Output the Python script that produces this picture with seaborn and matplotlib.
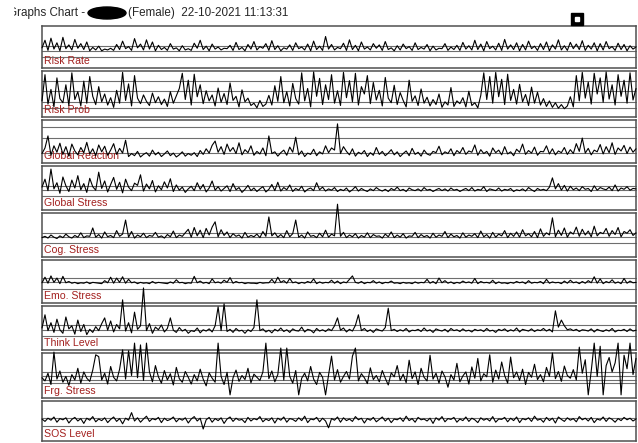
import numpy as np
import matplotlib
matplotlib.use("Agg")
import matplotlib.pyplot as plt
from matplotlib.patches import Ellipse, Rectangle
import seaborn as sns

# panel names, top to bottom
labels = ["Risk Rate", "Risk Prob", "Global Reaction", "Global Stress", "Cog. Stress",
          "Emo. Stress", "Think Level", "Frg. Stress", "SOS Level"]

risk_rate = [
    48, 66, 42, 71, 45, 60, 41, 73, 46, 55, 43, 68, 47, 58, 44, 62, 41, 49, 43, 52,
    41, 45, 43, 47, 42, 56, 44, 64, 46, 51, 42, 70, 48, 57, 43, 67, 45, 62, 41, 54,
    44, 49, 42, 58, 45, 48, 41, 53, 43, 46, 42, 59, 47, 66, 44, 52, 41, 57, 45, 50,
    43, 47, 46, 54, 42, 61, 44, 49, 41, 56, 45, 63, 43, 51, 47, 58, 42, 65, 44, 53,
    41, 48, 45, 55, 42, 60, 46, 50, 43, 57, 41, 64, 44, 52, 42, 75, 45, 56, 43, 49,
    46, 59, 42, 67, 44, 54, 41, 62, 45, 50, 43, 58, 47, 55, 42, 63, 44, 48, 41, 53,
    43, 57, 46, 51, 42, 60, 44, 49, 45, 56, 41, 52, 43, 47, 46, 58, 42, 50, 44, 54,
    42, 61, 45, 53, 43, 66, 44, 57, 41, 63, 46, 52, 43, 59, 42, 68, 45, 55, 44, 60,
    41, 56, 43, 64, 46, 52, 42, 58, 44, 62, 41, 55, 45, 67, 43, 53, 42, 61, 46, 57,
    44, 65, 42, 54, 45, 60, 41, 58, 43, 63, 46, 51, 42, 59, 44, 56, 41, 53, 45, 50,
]

risk_prob = [
    35, 92, 28, 60, 22, 85, 40, 31, 70, 25, 96, 38, 55, 24, 78, 30, 88, 45, 27, 66,
    33, 50, 26, 42, 21, 58, 30, 97, 36, 72, 24, 90, 41, 29, 48, 34, 25, 52, 31, 44,
    27, 39, 23, 55, 30, 46, 62, 95, 38, 80, 26, 93, 44, 70, 29, 57, 35, 48, 24, 63,
    32, 51, 27, 74, 36, 45, 22, 59, 33, 41, 25, 30, 20, 36, 23, 28, 47, 26, 68, 34,
    88, 31, 55, 24, 73, 40, 28, 96, 35, 62, 22, 98, 45, 84, 27, 70, 38, 92, 30, 57,
    25, 97, 42, 79, 33, 95, 26, 66, 50, 90, 29, 75, 37, 58, 24, 86, 41, 31, 69, 27,
    53, 36, 22, 80, 34, 46, 25, 61, 30, 43, 24, 38, 27, 50, 21, 33, 26, 64, 23, 35,
    29, 42, 22, 56, 25, 31, 20, 47, 96, 38, 88, 30, 97, 44, 82, 27, 93, 36, 60, 28,
    71, 33, 49, 25, 65, 30, 54, 26, 40, 23, 35, 21, 31, 19, 27, 18, 24, 44, 22, 90,
    35, 97, 41, 76, 28, 95, 50, 85, 32, 98, 39, 70, 26, 92, 45, 80, 30, 96, 37, 62,
]

global_reaction = [
    22, 35, 63, 18, 40, 25, 46, 20, 38, 16, 44, 28, 19, 36, 24, 48, 21, 33, 17, 42,
    26, 39, 18, 30, 45, 20, 34, 23, 53, 15, 22, 17, 27, 14, 20, 24, 16, 30, 19, 25,
    15, 21, 28, 17, 23, 14, 19, 26, 16, 22, 18, 24, 15, 29, 20, 33, 23, 41, 51, 25,
    38, 20, 44, 27, 36, 22, 47, 19, 31, 24, 40, 18, 27, 21, 35, 17, 63, 22, 26, 16,
    24, 30, 18, 37, 25, 60, 19, 28, 15, 23, 20, 32, 17, 26, 21, 40, 24, 35, 30, 91,
    22, 38, 27, 19, 33, 16, 25, 21, 29, 15, 24, 18, 36, 20, 27, 17, 23, 31, 19, 26,
    15, 22, 28, 17, 34, 20, 25, 16, 30, 21, 18, 27, 24, 39, 19, 26, 22, 33, 17, 29,
    23, 36, 20, 28, 25, 42, 18, 31, 22, 27, 16, 35, 24, 30, 19, 38, 21, 26, 17, 32,
    25, 44, 20, 29, 23, 37, 18, 27, 26, 40, 21, 33, 19, 28, 24, 36, 20, 31, 22, 45,
    27, 58, 23, 34, 19, 30, 26, 43, 21, 38, 24, 47, 20, 35, 28, 41, 22, 37, 25, 33,
]

global_stress = [
    52, 70, 44, 93, 48, 62, 38, 75, 55, 42, 68, 50, 78, 46, 60, 40, 72, 53, 45, 86,
    49, 66, 41, 58, 74, 47, 63, 39, 70, 52, 44, 61, 56, 80, 43, 59, 48, 67, 41, 55,
    46, 64, 50, 71, 42, 57, 45, 52, 40, 48, 54, 44, 62, 47, 58, 41, 50, 66, 45, 53,
    43, 49, 55, 42, 60, 46, 51, 40, 47, 56, 44, 50, 42, 48, 53, 41, 47, 58, 44, 63,
    43, 51, 46, 57, 42, 49, 45, 54, 41, 47, 50, 44, 62, 46, 52, 43, 48, 45, 51, 42,
    47, 44, 50, 41, 46, 53, 43, 49, 45, 42, 48, 44, 51, 46, 43, 47, 42, 49, 45, 52,
    44, 47, 42, 50, 46, 44, 48, 43, 51, 45, 47, 42, 46, 49, 44, 48, 43, 50, 45, 47,
    42, 46, 49, 44, 51, 43, 47, 45, 53, 42, 48, 46, 44, 50, 43, 47, 45, 49, 42, 46,
    44, 48, 43, 51, 46, 42, 49, 45, 47, 44, 52, 73, 48, 60, 45, 56, 43, 54, 46, 50,
    44, 53, 47, 49, 42, 55, 45, 51, 48, 46, 52, 44, 57, 43, 50, 47, 53, 45, 49, 48,
]

cog_stress = [
    44, 47, 43, 50, 45, 42, 48, 44, 52, 46, 43, 49, 45, 55, 44, 48, 47, 66, 45, 51,
    43, 57, 46, 49, 44, 60, 47, 52, 84, 45, 58, 43, 50, 46, 54, 44, 49, 47, 56, 45,
    48, 43, 51, 46, 59, 44, 50, 47, 55, 63, 45, 67, 48, 61, 44, 65, 50, 68, 80, 46,
    62, 49, 57, 44, 53, 47, 50, 43, 56, 45, 49, 46, 52, 44, 58, 47, 91, 48, 55, 45,
    51, 44, 60, 46, 53, 84, 45, 50, 43, 57, 47, 49, 44, 54, 46, 61, 45, 52, 48, 120,
    47, 56, 44, 50, 46, 53, 43, 49, 45, 55, 44, 51, 47, 48, 43, 52, 46, 57, 44, 50,
    45, 53, 43, 48, 47, 56, 44, 51, 46, 49, 43, 54, 45, 50, 47, 58, 44, 52, 46, 49,
    43, 55, 45, 50, 47, 53, 44, 59, 46, 51, 43, 56, 45, 52, 48, 60, 44, 54, 47, 57,
    45, 62, 48, 53, 46, 58, 44, 64, 47, 55, 50, 89, 46, 61, 49, 66, 45, 57, 52, 68,
    47, 63, 50, 59, 46, 70, 48, 56, 53, 65, 47, 60, 51, 67, 46, 58, 54, 62, 49, 55,
]

emo_stress = [
    47, 60, 46, 63, 48, 58, 45, 62, 47, 50, 46, 48, 45, 47, 46, 49, 45, 48, 47, 46,
    45, 52, 47, 60, 46, 58, 48, 61, 46, 55, 47, 49, 45, 48, 46, 47, 45, 50, 46, 48,
    47, 46, 45, 49, 46, 54, 47, 48, 45, 47, 46, 62, 47, 51, 46, 48, 45, 56, 47, 49,
    46, 53, 48, 59, 46, 50, 47, 48, 45, 47, 46, 46, 45, 48, 46, 47, 47, 55, 46, 60,
    48, 52, 46, 57, 47, 49, 45, 48, 46, 50, 47, 56, 45, 49, 46, 48, 47, 53, 46, 51,
    45, 49, 47, 55, 63, 48, 46, 50, 45, 48, 47, 52, 46, 49, 45, 48, 47, 51, 46, 47,
    45, 48, 46, 47, 45, 49, 46, 48, 47, 55, 46, 50, 45, 58, 47, 52, 46, 49, 45, 48,
    46, 51, 47, 49, 46, 57, 45, 50, 47, 48, 46, 53, 45, 49, 46, 47, 45, 48, 46, 50,
    47, 49, 45, 52, 46, 48, 47, 50, 45, 55, 46, 49, 47, 48, 45, 51, 46, 53, 47, 49,
    45, 50, 46, 52, 47, 61, 46, 56, 45, 50, 47, 54, 46, 49, 45, 57, 46, 51, 47, 48,
]

think_level = [
    50, 80, 44, 62, 40, 70, 46, 38, 75, 48, 55, 36, 68, 42, 58, 35, 47, 40, 53, 44,
    60, 73, 45, 66, 41, 58, 48, 114, 43, 62, 39, 86, 47, 55, 141, 44, 60, 38, 52, 46,
    57, 41, 49, 73, 45, 40, 51, 43, 47, 38, 44, 42, 50, 39, 46, 43, 48, 41, 55, 98,
    44, 105, 42, 47, 40, 49, 43, 45, 38, 46, 42, 51, 114, 44, 48, 41, 45, 39, 47, 43,
    50, 42, 46, 40, 48, 44, 43, 52, 41, 47, 45, 39, 49, 43, 46, 42, 48, 44, 55, 73,
    45, 50, 41, 47, 43, 56, 80, 44, 49, 42, 46, 40, 48, 45, 43, 51, 95, 44, 47, 42,
    46, 43, 49, 41, 45, 44, 47, 42, 50, 43, 46, 40, 48, 45, 43, 47, 41, 49, 44, 46,
    42, 48, 43, 45, 41, 47, 44, 46, 42, 49, 43, 45, 40, 47, 44, 48, 42, 46, 43, 50,
    41, 47, 45, 43, 48, 42, 46, 44, 49, 43, 47, 41, 89, 52, 68, 55, 46, 48, 44, 47,
    42, 46, 45, 43, 48, 41, 47, 44, 42, 46, 43, 49, 41, 45, 44, 47, 42, 48, 43, 45,
]

frg_stress = [
    45, 38, 55, 30, 102, 42, 60, 35, 48, 28, 52, 40, 66, 33, 58, 44, 37, 62, 96, 92,
    40, 55, 31, 70, 46, 38, 64, 107, 42, 105, 50, 122, 45, 118, 39, 122, 58, 36, 72, 47,
    33, 61, 40, 54, 29, 68, 43, 35, 59, 46, 31, 52, 38, 64, 42, 27, 56, 44, 35, 122,
    48, 30, 57, 7, 45, 62, 37, 50, 41, 66, 34, 53, 46, 39, 58, 122, 43, 60, 36, 52,
    111, 40, 111, 48, 33, 61, 7, 44, 55, 38, 70, 42, 30, 57, 46, 7, 51, 93, 40, 63,
    35, 48, 59, 42, 93, 111, 38, 54, 45, 32, 67, 41, 50, 36, 61, 44, 29, 56, 47, 72,
    39, 53, 34, 84, 43, 58, 30, 66, 46, 38, 95, 42, 55, 33, 60, 47, 24, 52, 40, 77,
    36, 49, 58, 31, 69, 44, 88, 38, 54, 47, 96, 35, 62, 42, 80, 50, 33, 91, 45, 58,
    39, 64, 30, 57, 46, 75, 41, 52, 36, 68, 48, 100, 43, 59, 37, 71, 50, 44, 63, 40,
    113, 55, 85, 7, 60, 122, 48, 115, 7, 72, 90, 58, 78, 122, 7, 95, 65, 122, 52, 88,
]

sos_level = [
    55, 49, 57, 52, 60, 47, 56, 53, 58, 45, 54, 59, 50, 56, 44, 57, 52, 61, 48, 55,
    51, 58, 46, 54, 60, 49, 56, 43, 57, 52, 71, 50, 58, 47, 55, 62, 49, 56, 53, 59,
    46, 57, 51, 54, 60, 48, 56, 52, 58, 45, 55, 61, 50, 57, 30, 53, 59, 47, 56, 51,
    58, 44, 55, 60, 49, 57, 52, 54, 46, 59, 50, 56, 53, 61, 48, 55, 51, 58, 45, 57,
    52, 60, 47, 56, 54, 49, 58, 51, 62, 46, 55, 53, 59, 48, 57, 50, 33, 56, 52, 60,
    47, 58, 51, 55, 49, 61, 53, 57, 45, 56, 52, 59, 48, 54, 60, 50, 57, 46, 55, 53,
    58, 49, 62, 51, 56, 47, 59, 53, 55, 50, 57, 44, 58, 52, 61, 48, 56, 54, 59, 47,
    55, 51, 60, 49, 57, 53, 46, 58, 52, 56, 50, 61, 47, 55, 54, 59, 48, 57, 51, 60,
    46, 56, 53, 58, 49, 62, 52, 55, 47, 59, 51, 57, 45, 60, 54, 49, 58, 52, 56, 48,
    61, 53, 57, 50, 59, 46, 55, 52, 60, 49, 58, 54, 47, 56, 51, 59, 53, 57, 50, 55,
]

series = [risk_rate, risk_prob, global_reaction, global_stress, cog_stress,
          emo_stress, think_level, frg_stress, sos_level]

# reference lines drawn in each panel (same 0-100 scale as the data)
ref_lines = [
    [52, 40, 27],
    [78, 57, 33, 20],
    [84, 58, 23],
    [54, 45, 32],
    [54, 45, 32],
    [58, 49, 32],
    [57, 45, 32],
    [58, 49, 40, 33],
    [57, 37],
]

# panel boxes in pixels (top, bottom)
W, H = 638, 443
boxes = [(26, 68), (71, 117), (120, 163), (166, 210), (213, 257),
         (260, 303), (306, 350), (353, 398), (401, 441)]
x0, x1 = 42, 636

sns.set_style("white")
plt.rcParams["font.family"] = ["Liberation Sans", "DejaVu Sans"]

fig = plt.figure(figsize=(W / 100, H / 100), dpi=100)

for name, vals, refs, (top, bot) in zip(labels, series, ref_lines, boxes):
    ax = fig.add_axes([x0 / W, 1 - bot / H, (x1 - x0) / W, (bot - top) / H])
    for r in refs:
        ax.axhline(r, color="#6e6e6e", lw=0.8, zorder=1)
    x = np.arange(len(vals))
    sns.lineplot(x=x, y=vals, ax=ax, color="black", linewidth=0.8, zorder=3)
    for ln in ax.lines:
        ln.set_clip_on(False)
    ax.set_xlim(0, len(vals) - 1)
    ax.set_ylim(0, 100)
    ax.set_xticks([])
    ax.set_yticks([])
    ax.set_xlabel("")
    ax.set_ylabel("")
    for sp in ax.spines.values():
        sp.set_color("#505050")
        sp.set_linewidth(1.1)
    ax.text(0.004, 0.05, name, transform=ax.transAxes, color="#a3201e",
            fontsize=7.6, ha="left", va="bottom", zorder=2)

# title line with the redacted name; its first letter is partly hidden
ty = 1 - 13 / H
fig.text(8 / W, ty, "Graphs Chart - ", fontsize=8.4, va="center", ha="left")
fig.add_artist(Rectangle((0, 1 - 22 / H), 12.5 / W, 16 / H,
                         transform=fig.transFigure, color="white", zorder=5))
fig.add_artist(Ellipse((107 / W, ty), 38 / W, 12 / H,
                       transform=fig.transFigure, color="black"))
fig.text(128 / W, ty, "(Female)  22-10-2021 11:13:31", fontsize=8.4,
         va="center", ha="left")

# small icon top right
fig.add_artist(Rectangle((571 / W, 1 - 25 / H), 12 / W, 12 / H,
                         transform=fig.transFigure, color="black"))
fig.add_artist(Rectangle((575 / W, 1 - 21 / H), 4 / W, 4 / H,
                         transform=fig.transFigure, color="white"))

fig.savefig("out.png", dpi=100)
